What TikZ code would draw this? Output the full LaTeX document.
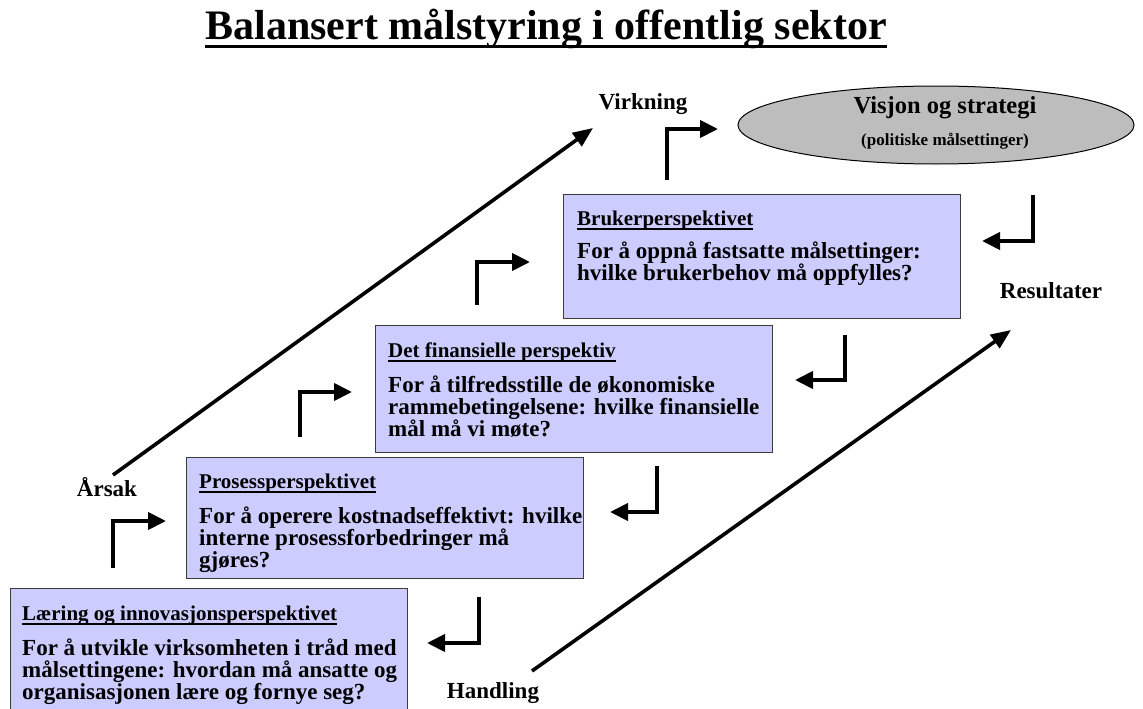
\documentclass[tikz,border=0pt]{standalone}
\usepackage{fontspec}
\setmainfont{Liberation Serif}
\usetikzlibrary{arrows.meta,calc,shapes.geometric}

\definecolor{boxfill}{HTML}{CCCCFF}
\definecolor{boxline}{HTML}{3C3C3C}
\definecolor{ovalfill}{HTML}{BDBDBD}

% underlined text: #1 rule thickness, #2 gap below the baseline, #3 text
\newsavebox\headbox
\newcommand\headline[3]{\sbox\headbox{#3}\makebox[0pt][l]{\rule[\dimexpr-#2-#1\relax]{\wd\headbox}{#1}}\usebox\headbox}

\tikzset{
  persp/.style={draw=boxline, line width=1.4pt, fill=boxfill, rectangle,
    anchor=north west, minimum width=397pt, inner sep=0pt},
  head/.style={anchor=base west, inner sep=0pt,
    font=\fontsize{21}{21}\selectfont\bfseries},
  body/.style={anchor=base west, inner sep=0pt,
    font=\fontsize{23}{22}\selectfont\bfseries},
  lab/.style={anchor=base, inner sep=0pt,
    font=\fontsize{23}{23}\selectfont\bfseries},
  elbow/.style={line width=4pt, -{Triangle[length=18pt,width=17pt]}},
  diag/.style={line width=3.6pt, -{Triangle[length=20pt,width=16pt]}},
}

\begin{document}
\begin{tikzpicture}[x=1pt,y=-1pt]
\useasboundingbox (0,0) rectangle (1143,709);

% title
\node[anchor=base, inner sep=0pt, font=\fontsize{42}{42}\selectfont\bfseries]
  (title) at (546,40) {\headline{3pt}{5pt}{Balansert målstyring i offentlig sektor}};

% vision oval
\node[ellipse, draw=black, line width=1pt, fill=ovalfill,
  minimum width=396pt, minimum height=78pt, inner sep=0pt] (vision) at (936,125) {};
\node[anchor=base, inner sep=0pt, font=\fontsize{24.5}{24.5}\selectfont\bfseries]
  (visiont) at (945,113) {Visjon og strategi};
\node[anchor=base, inner sep=0pt, font=\fontsize{17}{17}\selectfont\bfseries]
  (visions) at (945,145) {(politiske målsettinger)};

% the four perspectives
\node[persp, minimum height=124pt] (b1) at (10,588) {};
\node[persp, minimum height=121pt] (b2) at (186,457) {};
\node[persp, minimum height=127pt] (b3) at (375,325) {};
\node[persp, minimum height=124pt] (b4) at (563,194) {};

\node[head] (h1) at ($(b1.north west)+(12,32)$) {\headline{1.6pt}{3pt}{Læring og innovasjonsperspektivet}};
\node[body] (p1) at ($(b1.north west)+(12,67)$) {\parbox[t]{385pt}{For å utvikle virksomheten i tråd med\\målsettingene: hvordan må ansatte og\\organisasjonen lære og fornye seg?}};

\node[head] (h2) at ($(b2.north west)+(13,31)$) {\headline{1.6pt}{3pt}{Prosessperspektivet}};
\node[body] (p2) at ($(b2.north west)+(13,66)$) {\parbox[t]{385pt}{For å operere kostnadseffektivt: hvilke\\interne prosessforbedringer må\\gjøres?}};

\node[head] (h3) at ($(b3.north west)+(13,32)$) {\headline{1.6pt}{3pt}{Det finansielle perspektiv}};
\node[body] (p3) at ($(b3.north west)+(13,67)$) {\parbox[t]{385pt}{For å tilfredsstille de økonomiske\\rammebetingelsene: hvilke finansielle\\mål må vi møte?}};

\node[head] (h4) at ($(b4.north west)+(14,31)$) {\headline{1.6pt}{3pt}{Brukerperspektivet}};
\node[body] (p4) at ($(b4.north west)+(14,64)$) {\parbox[t]{385pt}{For å oppnå fastsatte målsettinger:\\hvilke brukerbehov må oppfylles?}};

% side labels
\node[lab] (virkning) at (643,110) {Virkning};
\node[lab] (arsak) at (107,496) {Årsak};
\node[lab] (result) at (1051,298) {Resultater};
\node[lab] (handling) at (493,698) {Handling};

% cause-effect and action-result diagonals
\coordinate (c0) at (113,475);
\coordinate (c1) at (593,128);
\coordinate (r0) at (532,671);
\coordinate (r1) at (1011,330);
\draw[diag] (c0) -- (c1);
\draw[diag] (r0) -- (r1);

% upward steps
\coordinate (u1a) at (113,568); \coordinate (u1b) at (166,521);
\coordinate (u2a) at (300,437); \coordinate (u2b) at (352,392);
\coordinate (u3a) at (477,305); \coordinate (u3b) at (530,262);
\coordinate (u4a) at (667,180); \coordinate (u4b) at (718,129);
\draw[elbow] (u1a) |- (u1b);
\draw[elbow] (u2a) |- (u2b);
\draw[elbow] (u3a) |- (u3b);
\draw[elbow] (u4a) |- (u4b);

% returning steps
\coordinate (d1a) at (479,597); \coordinate (d1b) at (427,643);
\coordinate (d2a) at (657,466); \coordinate (d2b) at (610,512);
\coordinate (d3a) at (845,335); \coordinate (d3b) at (795,380);
\coordinate (d4a) at (1033,195); \coordinate (d4b) at (982,241);
\draw[elbow] (d1a) |- (d1b);
\draw[elbow] (d2a) |- (d2b);
\draw[elbow] (d3a) |- (d3b);
\draw[elbow] (d4a) |- (d4b);
\end{tikzpicture}
\end{document}
